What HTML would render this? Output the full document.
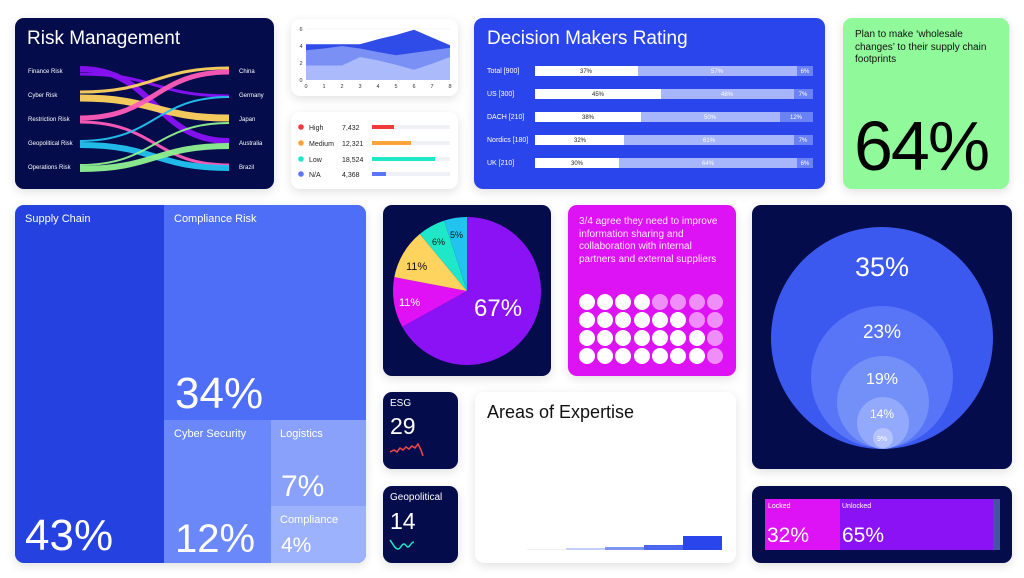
<!DOCTYPE html>
<html><head><meta charset="utf-8"><style>
*{margin:0;padding:0;box-sizing:border-box}
body{width:1024px;height:578px;background:#fff;font-family:"Liberation Sans",sans-serif;position:relative;overflow:hidden}
.c{position:absolute;border-radius:9px;box-shadow:0 3px 10px rgba(0,0,0,0.12);overflow:hidden}
.a{position:absolute;white-space:nowrap}
.navy{background:#040c4b}
</style></head><body>

<!-- Risk management -->
<div class="c navy" style="left:15px;top:18px;width:259px;height:171px">
<div class="a" style="left:12px;top:10px;font-size:19px;color:#fff">Risk Management</div>
</div>
<svg class="a" style="left:0;top:0" width="1024" height="578">
<g fill="none" stroke-opacity="0.95">
<path d="M80 69 C155 69,155 141,229 141" stroke="#8a12f5" stroke-width="6"/>
<path d="M80 74 C155 74,155 96,229 96" stroke="#8a12f5" stroke-width="3"/>
<path d="M80 92 C155 92,155 68,229 68" stroke="#ffd45e" stroke-width="3"/>
<path d="M80 98 C155 98,155 118,229 118" stroke="#ffd45e" stroke-width="7"/>
<path d="M80 118 C155 118,155 72,229 72" stroke="#ff5cb8" stroke-width="5"/>
<path d="M80 122 C155 122,155 165,229 165" stroke="#ff5cb8" stroke-width="3"/>
<path d="M80 141 C155 141,155 97,229 97" stroke="#23c3f0" stroke-width="2"/>
<path d="M80 145 C155 145,155 168,229 168" stroke="#23c3f0" stroke-width="6"/>
<path d="M80 165 C155 165,155 123,229 123" stroke="#8ff28f" stroke-width="2"/>
<path d="M80 169 C155 169,155 146,229 146" stroke="#8ff28f" stroke-width="6"/>
</g>
<g font-size="6" fill="#fff">
<text x="28" y="73">Finance Risk</text><text x="28" y="97">Cyber Risk</text><text x="28" y="121">Restriction Risk</text><text x="28" y="145">Geopolitical Risk</text><text x="28" y="169">Operations Risk</text>
<text x="239" y="73">China</text><text x="239" y="97">Germany</text><text x="239" y="121">Japan</text><text x="239" y="145">Australia</text><text x="239" y="169">Brazil</text>
</g>
</svg>

<!-- Area chart -->
<div class="c" style="left:291px;top:19px;width:167px;height:77px;background:#fff"></div>
<svg class="a" style="left:0;top:0" width="1024" height="578">
<g stroke="#eceef5" stroke-width="0.6">
<line x1="306" y1="29" x2="450" y2="29"/><line x1="306" y1="46" x2="450" y2="46"/><line x1="306" y1="63" x2="450" y2="63"/>
</g>
<path d="M306 44.3 L324 44.3 L342 44.3 L360 44.3 L378 39.2 L396 35 L414 29.8 L432 37.5 L450 45.2 L450 80 L306 80Z" fill="#2f4be8"/>
<path d="M306 50.2 L324 48.5 L342 46 L360 48.5 L378 52 L396 55.3 L414 52.8 L432 50.2 L450 47.7 L450 80 L306 80Z" fill="#7a90f5"/>
<path d="M306 65.5 L324 65.5 L342 65.5 L360 57 L378 60.4 L396 64.7 L414 69.8 L432 63.8 L450 57 L450 80 L306 80Z" fill="#aabafb"/>
<g font-size="5.5" fill="#333" text-anchor="middle">
<text x="301" y="31">6</text><text x="301" y="48">4</text><text x="301" y="65">2</text><text x="301" y="82">0</text>
<text x="306" y="88">0</text><text x="324" y="88">1</text><text x="342" y="88">2</text><text x="360" y="88">3</text><text x="378" y="88">4</text><text x="396" y="88">5</text><text x="414" y="88">6</text><text x="432" y="88">7</text><text x="450" y="88">8</text>
</g>
</svg>

<!-- Legend card -->
<div class="c" style="left:291px;top:112px;width:167px;height:77px;background:#fff"></div>
<svg class="a" style="left:0;top:0" width="1024" height="578">
<g font-size="7" fill="#222">
<circle cx="301" cy="127" r="2.8" fill="#f03a3a"/><text x="309" y="130">High</text><text x="342" y="130">7,432</text>
<rect x="372" y="125" width="78" height="4" fill="#f0f1f7"/><rect x="372" y="125" width="22" height="4" fill="#f03a3a"/>
<circle cx="301" cy="143" r="2.8" fill="#ffa23a"/><text x="309" y="146">Medium</text><text x="342" y="146">12,321</text>
<rect x="372" y="141" width="78" height="4" fill="#f0f1f7"/><rect x="372" y="141" width="39" height="4" fill="#ffa23a"/>
<circle cx="301" cy="159" r="2.8" fill="#1ee8c8"/><text x="309" y="162">Low</text><text x="342" y="162">18,524</text>
<rect x="372" y="157" width="78" height="4" fill="#f0f1f7"/><rect x="372" y="157" width="63" height="4" fill="#1ee8c8"/>
<circle cx="301" cy="174" r="2.8" fill="#5a76f7"/><text x="309" y="177">N/A</text><text x="342" y="177">4,368</text>
<rect x="372" y="172" width="78" height="4" fill="#f0f1f7"/><rect x="372" y="172" width="14" height="4" fill="#5a76f7"/>
</g>
</svg>

<!-- Decision makers -->
<div class="c" style="left:474px;top:18px;width:351px;height:171px;background:#2a45ec">
<div class="a" style="left:13px;top:10px;font-size:19px;color:#fff">Decision Makers Rating</div>
</div>
<svg class="a" style="left:0;top:0" width="1024" height="578">
<g font-size="6" text-anchor="middle">
<g><rect x="535" y="66" width="103" height="10" fill="#fff"/><rect x="638" y="66" width="159" height="10" fill="#a7b5fb"/><rect x="797" y="66" width="16" height="10" fill="#6a82f6"/>
<text x="586" y="73" fill="#222">37%</text><text x="717" y="73" fill="#fff">57%</text><text x="805" y="73" fill="#fff">6%</text></g>
<g><rect x="535" y="89" width="126" height="10" fill="#fff"/><rect x="661" y="89" width="133" height="10" fill="#a7b5fb"/><rect x="794" y="89" width="19" height="10" fill="#6a82f6"/>
<text x="598" y="96" fill="#222">45%</text><text x="727" y="96" fill="#fff">48%</text><text x="803" y="96" fill="#fff">7%</text></g>
<g><rect x="535" y="112" width="106" height="10" fill="#fff"/><rect x="641" y="112" width="139" height="10" fill="#a7b5fb"/><rect x="780" y="112" width="33" height="10" fill="#6a82f6"/>
<text x="588" y="119" fill="#222">38%</text><text x="710" y="119" fill="#fff">50%</text><text x="796" y="119" fill="#fff">12%</text></g>
<g><rect x="535" y="135" width="89" height="10" fill="#fff"/><rect x="624" y="135" width="170" height="10" fill="#a7b5fb"/><rect x="794" y="135" width="19" height="10" fill="#6a82f6"/>
<text x="580" y="142" fill="#222">32%</text><text x="709" y="142" fill="#fff">61%</text><text x="803" y="142" fill="#fff">7%</text></g>
<g><rect x="535" y="158" width="84" height="10" fill="#fff"/><rect x="619" y="158" width="178" height="10" fill="#a7b5fb"/><rect x="797" y="158" width="16" height="10" fill="#6a82f6"/>
<text x="577" y="165" fill="#222">30%</text><text x="708" y="165" fill="#fff">64%</text><text x="805" y="165" fill="#fff">6%</text></g>
</g>
<g font-size="7" fill="#fff">
<text x="487" y="73">Total [900]</text><text x="487" y="96">US [300]</text><text x="487" y="119">DACH [210]</text><text x="487" y="142">Nordics [180]</text><text x="487" y="165">UK [210]</text>
</g>
</svg>

<!-- Green -->
<div class="c" style="left:843px;top:18px;width:166px;height:171px;background:#90f99a">
<div class="a" style="left:12px;top:11px;font-size:10px;line-height:12.5px;color:#111;white-space:normal;width:150px">Plan to make ‘wholesale changes’ to their supply chain footprints</div>
<div class="a" style="left:11px;top:88px;font-size:70px;color:#000;letter-spacing:-2px">64%</div>
</div>

<!-- Treemap -->
<div class="c" style="left:15px;top:205px;width:351px;height:358px;background:#2541e0">
<div class="a" style="left:149px;top:0;width:202px;height:215px;background:#4f6ef7"></div>
<div class="a" style="left:149px;top:215px;width:107px;height:143px;background:#6b88fb"></div>
<div class="a" style="left:256px;top:215px;width:95px;height:86px;background:#8aa1fc"></div>
<div class="a" style="left:256px;top:301px;width:95px;height:57px;background:#9db2fd"></div>
<div class="a" style="left:10px;top:8px;font-size:11px;color:#fff">Supply Chain</div>
<div class="a" style="left:159px;top:8px;font-size:11px;color:#fff">Compliance Risk</div>
<div class="a" style="left:159px;top:223px;font-size:11px;color:#fff">Cyber Security</div>
<div class="a" style="left:265px;top:223px;font-size:11px;color:#fff">Logistics</div>
<div class="a" style="left:265px;top:309px;font-size:11px;color:#fff">Compliance</div>
<div class="a" style="left:10px;top:306px;font-size:44px;color:#fff">43%</div>
<div class="a" style="left:160px;top:164px;font-size:44px;color:#fff">34%</div>
<div class="a" style="left:160px;top:312px;font-size:40px;color:#fff">12%</div>
<div class="a" style="left:266px;top:265px;font-size:30px;color:#fff">7%</div>
<div class="a" style="left:266px;top:329px;font-size:21px;color:#fff">4%</div>
</div>

<!-- Pie -->
<div class="c navy" style="left:383px;top:205px;width:168px;height:171px"></div>
<svg class="a" style="left:0;top:0" width="1024" height="578">
<path d="M467 291 L467 217 A74 74 0 1 1 402.2 326.7Z" fill="#8a12f5"/>
<path d="M467 291 L402.2 326.7 A74 74 0 0 1 394.3 277.1Z" fill="#e012f5"/>
<path d="M467 291 L394.3 277.1 A74 74 0 0 1 419.8 234Z" fill="#ffd45e"/>
<path d="M467 291 L419.8 234 A74 74 0 0 1 444.1 220.6Z" fill="#1ee8c8"/>
<path d="M467 291 L444.1 220.6 A74 74 0 0 1 467 217Z" fill="#23c3f0"/>
<text x="474" y="316" font-size="24" fill="#fff">67%</text>
<text x="399" y="306" font-size="11" fill="#fff">11%</text>
<text x="406" y="270" font-size="11" fill="#111">11%</text>
<text x="432" y="245" font-size="9" fill="#111">6%</text>
<text x="450" y="238" font-size="9" fill="#111">5%</text>
</svg>

<!-- Magenta -->
<div class="c" style="left:568px;top:205px;width:168px;height:171px;background:#dd12f5">
<div class="a" style="left:11px;top:11px;font-size:10px;line-height:12.5px;color:#fff;white-space:normal;width:152px;opacity:.92">3/4 agree they need to improve information sharing and collaboration with internal partners and external suppliers</div>
</div>
<svg class="a" style="left:0;top:0" width="1024" height="578">
<g fill="#fff">
<circle cx="587" cy="302" r="8"/><circle cx="605" cy="302" r="8"/><circle cx="623" cy="302" r="8"/><circle cx="642" cy="302" r="8"/>
<circle cx="587" cy="320" r="8"/><circle cx="605" cy="320" r="8"/><circle cx="623" cy="320" r="8"/><circle cx="642" cy="320" r="8"/><circle cx="660" cy="320" r="8"/><circle cx="678" cy="320" r="8"/>
<circle cx="587" cy="338" r="8"/><circle cx="605" cy="338" r="8"/><circle cx="623" cy="338" r="8"/><circle cx="642" cy="338" r="8"/><circle cx="660" cy="338" r="8"/><circle cx="678" cy="338" r="8"/><circle cx="697" cy="338" r="8"/>
<circle cx="587" cy="356" r="8"/><circle cx="605" cy="356" r="8"/><circle cx="623" cy="356" r="8"/><circle cx="642" cy="356" r="8"/><circle cx="660" cy="356" r="8"/><circle cx="678" cy="356" r="8"/><circle cx="697" cy="356" r="8"/>
</g>
<g fill="#ef8ef8">
<circle cx="660" cy="302" r="8"/><circle cx="678" cy="302" r="8"/><circle cx="697" cy="302" r="8"/><circle cx="715" cy="302" r="8"/>
<circle cx="697" cy="320" r="8"/><circle cx="715" cy="320" r="8"/><circle cx="715" cy="338" r="8"/><circle cx="715" cy="356" r="8"/>
</g>
</svg>

<!-- Nested circles -->
<div class="c navy" style="left:752px;top:205px;width:260px;height:264px"></div>
<svg class="a" style="left:0;top:0" width="1024" height="578">
<circle cx="882" cy="338" r="111" fill="#3b59ef"/>
<circle cx="882" cy="377" r="71" fill="#5775f6"/>
<circle cx="883" cy="402" r="46" fill="#7390f9"/>
<circle cx="883" cy="423" r="26" fill="#93a9fb"/>
<circle cx="883" cy="438" r="10" fill="#b4c3fd"/>
<g fill="#fff" text-anchor="middle">
<text x="882" y="276" font-size="27">35%</text>
<text x="882" y="338" font-size="19">23%</text>
<text x="882" y="384" font-size="16">19%</text>
<text x="882" y="418" font-size="12">14%</text>
<text x="882" y="441" font-size="7">9%</text>
</g>
</svg>

<!-- ESG / Geopolitical -->
<div class="c navy" style="left:383px;top:392px;width:75px;height:77px">
<div class="a" style="left:7px;top:6px;font-size:10px;color:#fff">ESG</div>
<div class="a" style="left:7px;top:21px;font-size:23px;color:#fff">29</div>
</div>
<div class="c navy" style="left:383px;top:486px;width:75px;height:77px">
<div class="a" style="left:7px;top:6px;font-size:10px;color:#fff">Geopolitical</div>
<div class="a" style="left:7px;top:22px;font-size:23px;color:#fff">14</div>
</div>
<svg class="a" style="left:0;top:0" width="1024" height="578">
<path d="M390 452 L394 450 L397 452 L400 448 L403 450 L406 447 L409 449 L412 446 L415 448 L418 444 L421 450 L423 456" fill="none" stroke="#f04848" stroke-width="1.5"/>
<path d="M390 540 C393 544,395 549,398 549 C401 549,401 544,404 544 C406 544,406 547,408 547 C410 547,411 542,414 542" fill="none" stroke="#1ee8c8" stroke-width="1.5"/>
</svg>

<!-- Areas of expertise -->
<div class="c" style="left:475px;top:392px;width:261px;height:171px;background:#fff">
<div class="a" style="left:12px;top:10px;font-size:18px;color:#111">Areas of Expertise</div>
<div class="a" style="left:52px;top:157px;width:39px;height:1px;background:#eef0fb"></div>
<div class="a" style="left:91px;top:156px;width:39px;height:2px;background:#c6d0fb"></div>
<div class="a" style="left:130px;top:155px;width:39px;height:3px;background:#7e94f5"></div>
<div class="a" style="left:169px;top:153px;width:39px;height:5px;background:#4a66ee"></div>
<div class="a" style="left:208px;top:144px;width:39px;height:14px;background:#2a45ec"></div>
</div>

<!-- Locked -->
<div class="c navy" style="left:752px;top:486px;width:260px;height:77px">
<div class="a" style="left:13px;top:13px;width:75px;height:51px;background:#dd12f5"></div>
<div class="a" style="left:88px;top:13px;width:153px;height:51px;background:#8a12f5"></div>
<div class="a" style="left:241px;top:13px;width:7px;height:51px;background:#4a4fa8"></div>
<div class="a" style="left:16px;top:17px;font-size:7px;color:#fff">Locked</div>
<div class="a" style="left:90px;top:17px;font-size:7px;color:#fff">Unlocked</div>
<div class="a" style="left:15px;top:38px;font-size:21px;color:#fff">32%</div>
<div class="a" style="left:90px;top:38px;font-size:21px;color:#fff">65%</div>
</div>
</body></html>
